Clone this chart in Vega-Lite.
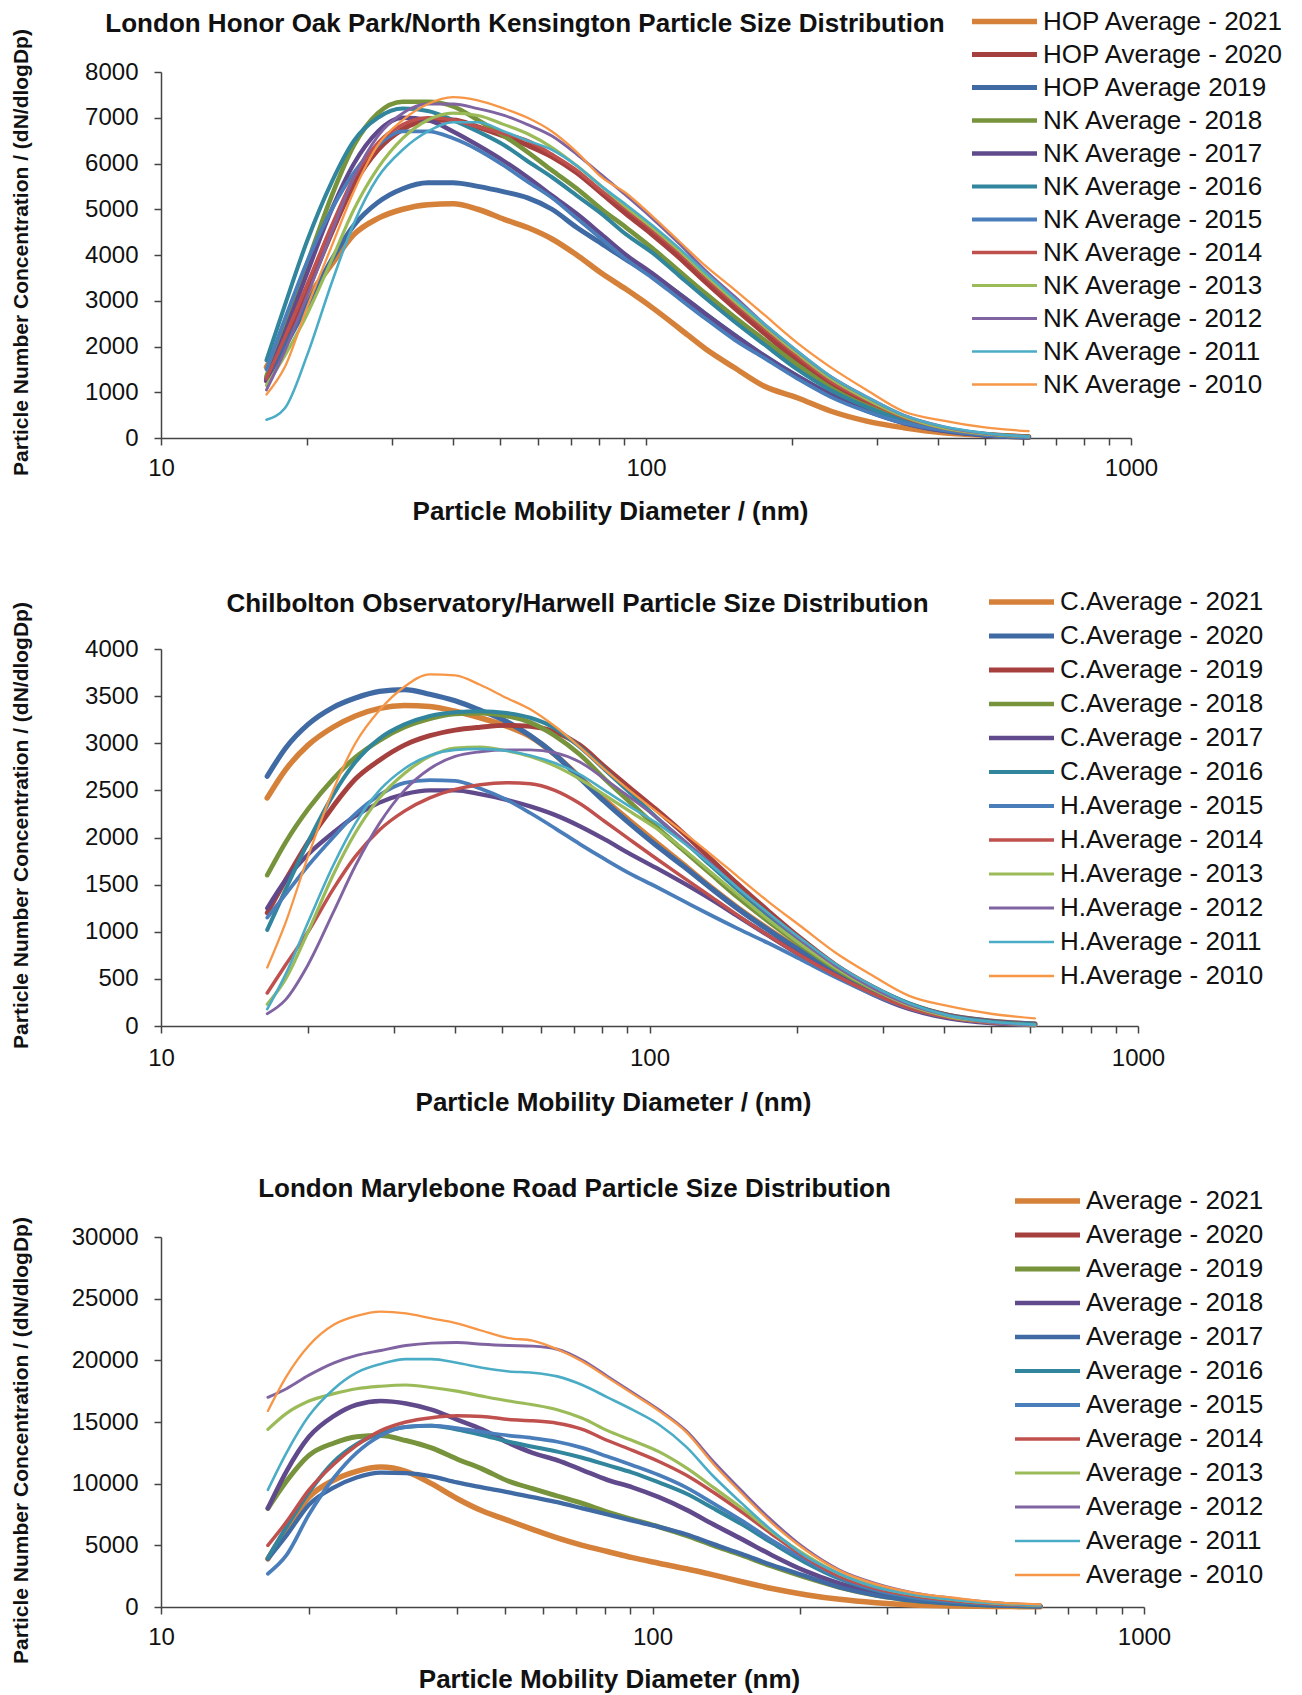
{
"$schema": "https://vega.github.io/schema/vega-lite/v6.json",
"background": "white",
"padding": {"left": 9, "top": 5, "right": 5, "bottom": 5},
"config": {
  "view": {"stroke": null},
  "font": "Liberation Sans",
  "axis": {"domainColor": "#444", "domainWidth": 1.5, "tickColor": "#444", "tickWidth": 1.5, "tickSize": 7, "grid": false, "labelColor": "#111", "titleColor": "#111", "labelFont": "Liberation Sans", "titleFont": "Liberation Sans", "labelFontSize": 24, "titleFontWeight": "bold"},
  "legend": {"labelFont": "Liberation Sans", "labelFontSize": 26, "labelColor": "#111", "labelLimit": 400, "symbolType": "stroke", "symbolSize": 4225, "padding": 0, "rowPadding": 0, "labelOffset": 3},
  "line": {"strokeJoin": "round", "strokeCap": "round", "interpolate": "monotone"}
},
"datasets": {
"p1": [
{"d":16.5,"s":"HOP Average - 2021","v":1550},{"d":18,"s":"HOP Average - 2021","v":2250},{"d":20,"s":"HOP Average - 2021","v":3050},{"d":22.5,"s":"HOP Average - 2021","v":3800},{"d":25,"s":"HOP Average - 2021","v":4450},{"d":28,"s":"HOP Average - 2021","v":4800},{"d":31.5,"s":"HOP Average - 2021","v":5000},{"d":35.5,"s":"HOP Average - 2021","v":5100},{"d":40,"s":"HOP Average - 2021","v":5120},{"d":45,"s":"HOP Average - 2021","v":5000},{"d":51,"s":"HOP Average - 2021","v":4780},{"d":57,"s":"HOP Average - 2021","v":4600},{"d":64,"s":"HOP Average - 2021","v":4350},{"d":72,"s":"HOP Average - 2021","v":4000},{"d":81,"s":"HOP Average - 2021","v":3600},{"d":91,"s":"HOP Average - 2021","v":3250},{"d":103,"s":"HOP Average - 2021","v":2850},{"d":117,"s":"HOP Average - 2021","v":2400},{"d":133,"s":"HOP Average - 2021","v":1940},{"d":152,"s":"HOP Average - 2021","v":1540},{"d":175,"s":"HOP Average - 2021","v":1135},{"d":205,"s":"HOP Average - 2021","v":880},{"d":240,"s":"HOP Average - 2021","v":590},{"d":285,"s":"HOP Average - 2021","v":370},{"d":340,"s":"HOP Average - 2021","v":225},{"d":410,"s":"HOP Average - 2021","v":115},{"d":500,"s":"HOP Average - 2021","v":60},{"d":615,"s":"HOP Average - 2021","v":20},
{"d":16.5,"s":"HOP Average - 2020","v":1250},{"d":18,"s":"HOP Average - 2020","v":2100},{"d":20,"s":"HOP Average - 2020","v":3200},{"d":22.5,"s":"HOP Average - 2020","v":4500},{"d":25,"s":"HOP Average - 2020","v":5550},{"d":28,"s":"HOP Average - 2020","v":6300},{"d":31.5,"s":"HOP Average - 2020","v":6750},{"d":35.5,"s":"HOP Average - 2020","v":6950},{"d":40,"s":"HOP Average - 2020","v":6950},{"d":45,"s":"HOP Average - 2020","v":6800},{"d":51,"s":"HOP Average - 2020","v":6600},{"d":57,"s":"HOP Average - 2020","v":6400},{"d":64,"s":"HOP Average - 2020","v":6150},{"d":72,"s":"HOP Average - 2020","v":5800},{"d":81,"s":"HOP Average - 2020","v":5350},{"d":91,"s":"HOP Average - 2020","v":4900},{"d":103,"s":"HOP Average - 2020","v":4450},{"d":117,"s":"HOP Average - 2020","v":3950},{"d":133,"s":"HOP Average - 2020","v":3400},{"d":152,"s":"HOP Average - 2020","v":2850},{"d":175,"s":"HOP Average - 2020","v":2300},{"d":205,"s":"HOP Average - 2020","v":1700},{"d":240,"s":"HOP Average - 2020","v":1200},{"d":285,"s":"HOP Average - 2020","v":780},{"d":340,"s":"HOP Average - 2020","v":430},{"d":410,"s":"HOP Average - 2020","v":200},{"d":500,"s":"HOP Average - 2020","v":80},{"d":615,"s":"HOP Average - 2020","v":25},
{"d":16.5,"s":"HOP Average 2019","v":1300},{"d":18,"s":"HOP Average 2019","v":2000},{"d":20,"s":"HOP Average 2019","v":2900},{"d":22.5,"s":"HOP Average 2019","v":3900},{"d":25,"s":"HOP Average 2019","v":4650},{"d":28,"s":"HOP Average 2019","v":5150},{"d":31.5,"s":"HOP Average 2019","v":5450},{"d":35.5,"s":"HOP Average 2019","v":5580},{"d":40,"s":"HOP Average 2019","v":5580},{"d":45,"s":"HOP Average 2019","v":5500},{"d":51,"s":"HOP Average 2019","v":5380},{"d":57,"s":"HOP Average 2019","v":5250},{"d":64,"s":"HOP Average 2019","v":5000},{"d":72,"s":"HOP Average 2019","v":4600},{"d":81,"s":"HOP Average 2019","v":4250},{"d":91,"s":"HOP Average 2019","v":3900},{"d":103,"s":"HOP Average 2019","v":3550},{"d":117,"s":"HOP Average 2019","v":3150},{"d":133,"s":"HOP Average 2019","v":2700},{"d":152,"s":"HOP Average 2019","v":2250},{"d":175,"s":"HOP Average 2019","v":1800},{"d":205,"s":"HOP Average 2019","v":1350},{"d":240,"s":"HOP Average 2019","v":950},{"d":285,"s":"HOP Average 2019","v":600},{"d":340,"s":"HOP Average 2019","v":330},{"d":410,"s":"HOP Average 2019","v":160},{"d":500,"s":"HOP Average 2019","v":60},{"d":615,"s":"HOP Average 2019","v":15},
{"d":16.5,"s":"NK Average - 2018","v":1350},{"d":18,"s":"NK Average - 2018","v":2450},{"d":20,"s":"NK Average - 2018","v":3800},{"d":22.5,"s":"NK Average - 2018","v":5300},{"d":25,"s":"NK Average - 2018","v":6400},{"d":28,"s":"NK Average - 2018","v":7100},{"d":31.5,"s":"NK Average - 2018","v":7350},{"d":35.5,"s":"NK Average - 2018","v":7350},{"d":40,"s":"NK Average - 2018","v":7250},{"d":45,"s":"NK Average - 2018","v":6950},{"d":51,"s":"NK Average - 2018","v":6600},{"d":57,"s":"NK Average - 2018","v":6250},{"d":64,"s":"NK Average - 2018","v":5850},{"d":72,"s":"NK Average - 2018","v":5450},{"d":81,"s":"NK Average - 2018","v":5000},{"d":91,"s":"NK Average - 2018","v":4600},{"d":103,"s":"NK Average - 2018","v":4150},{"d":117,"s":"NK Average - 2018","v":3650},{"d":133,"s":"NK Average - 2018","v":3150},{"d":152,"s":"NK Average - 2018","v":2650},{"d":175,"s":"NK Average - 2018","v":2150},{"d":205,"s":"NK Average - 2018","v":1600},{"d":240,"s":"NK Average - 2018","v":1100},{"d":285,"s":"NK Average - 2018","v":700},{"d":340,"s":"NK Average - 2018","v":400},{"d":410,"s":"NK Average - 2018","v":200},{"d":500,"s":"NK Average - 2018","v":80},{"d":615,"s":"NK Average - 2018","v":25},
{"d":16.5,"s":"NK Average - 2017","v":1250},{"d":18,"s":"NK Average - 2017","v":2300},{"d":20,"s":"NK Average - 2017","v":3600},{"d":22.5,"s":"NK Average - 2017","v":5000},{"d":25,"s":"NK Average - 2017","v":6000},{"d":28,"s":"NK Average - 2017","v":6700},{"d":31.5,"s":"NK Average - 2017","v":7000},{"d":35.5,"s":"NK Average - 2017","v":6950},{"d":40,"s":"NK Average - 2017","v":6700},{"d":45,"s":"NK Average - 2017","v":6400},{"d":51,"s":"NK Average - 2017","v":6050},{"d":57,"s":"NK Average - 2017","v":5700},{"d":64,"s":"NK Average - 2017","v":5300},{"d":72,"s":"NK Average - 2017","v":4900},{"d":81,"s":"NK Average - 2017","v":4450},{"d":91,"s":"NK Average - 2017","v":4000},{"d":103,"s":"NK Average - 2017","v":3600},{"d":117,"s":"NK Average - 2017","v":3150},{"d":133,"s":"NK Average - 2017","v":2700},{"d":152,"s":"NK Average - 2017","v":2250},{"d":175,"s":"NK Average - 2017","v":1800},{"d":205,"s":"NK Average - 2017","v":1350},{"d":240,"s":"NK Average - 2017","v":950},{"d":285,"s":"NK Average - 2017","v":600},{"d":340,"s":"NK Average - 2017","v":330},{"d":410,"s":"NK Average - 2017","v":160},{"d":500,"s":"NK Average - 2017","v":60},{"d":615,"s":"NK Average - 2017","v":20},
{"d":16.5,"s":"NK Average - 2016","v":1700},{"d":18,"s":"NK Average - 2016","v":2900},{"d":20,"s":"NK Average - 2016","v":4300},{"d":22.5,"s":"NK Average - 2016","v":5600},{"d":25,"s":"NK Average - 2016","v":6500},{"d":28,"s":"NK Average - 2016","v":7000},{"d":31.5,"s":"NK Average - 2016","v":7200},{"d":35.5,"s":"NK Average - 2016","v":7150},{"d":40,"s":"NK Average - 2016","v":6950},{"d":45,"s":"NK Average - 2016","v":6700},{"d":51,"s":"NK Average - 2016","v":6400},{"d":57,"s":"NK Average - 2016","v":6050},{"d":64,"s":"NK Average - 2016","v":5700},{"d":72,"s":"NK Average - 2016","v":5300},{"d":81,"s":"NK Average - 2016","v":4900},{"d":91,"s":"NK Average - 2016","v":4450},{"d":103,"s":"NK Average - 2016","v":4050},{"d":117,"s":"NK Average - 2016","v":3550},{"d":133,"s":"NK Average - 2016","v":3050},{"d":152,"s":"NK Average - 2016","v":2550},{"d":175,"s":"NK Average - 2016","v":2050},{"d":205,"s":"NK Average - 2016","v":1500},{"d":240,"s":"NK Average - 2016","v":1050},{"d":285,"s":"NK Average - 2016","v":680},{"d":340,"s":"NK Average - 2016","v":380},{"d":410,"s":"NK Average - 2016","v":180},{"d":500,"s":"NK Average - 2016","v":70},{"d":615,"s":"NK Average - 2016","v":20},
{"d":16.5,"s":"NK Average - 2015","v":1500},{"d":18,"s":"NK Average - 2015","v":2600},{"d":20,"s":"NK Average - 2015","v":3850},{"d":22.5,"s":"NK Average - 2015","v":5000},{"d":25,"s":"NK Average - 2015","v":5800},{"d":28,"s":"NK Average - 2015","v":6400},{"d":31.5,"s":"NK Average - 2015","v":6700},{"d":35.5,"s":"NK Average - 2015","v":6700},{"d":40,"s":"NK Average - 2015","v":6550},{"d":45,"s":"NK Average - 2015","v":6300},{"d":51,"s":"NK Average - 2015","v":5950},{"d":57,"s":"NK Average - 2015","v":5600},{"d":64,"s":"NK Average - 2015","v":5250},{"d":72,"s":"NK Average - 2015","v":4800},{"d":81,"s":"NK Average - 2015","v":4350},{"d":91,"s":"NK Average - 2015","v":3900},{"d":103,"s":"NK Average - 2015","v":3500},{"d":117,"s":"NK Average - 2015","v":3050},{"d":133,"s":"NK Average - 2015","v":2600},{"d":152,"s":"NK Average - 2015","v":2150},{"d":175,"s":"NK Average - 2015","v":1750},{"d":205,"s":"NK Average - 2015","v":1300},{"d":240,"s":"NK Average - 2015","v":900},{"d":285,"s":"NK Average - 2015","v":580},{"d":340,"s":"NK Average - 2015","v":330},{"d":410,"s":"NK Average - 2015","v":170},{"d":500,"s":"NK Average - 2015","v":70},{"d":615,"s":"NK Average - 2015","v":20},
{"d":16.5,"s":"NK Average - 2014","v":1300},{"d":18,"s":"NK Average - 2014","v":2200},{"d":20,"s":"NK Average - 2014","v":3350},{"d":22.5,"s":"NK Average - 2014","v":4650},{"d":25,"s":"NK Average - 2014","v":5700},{"d":28,"s":"NK Average - 2014","v":6450},{"d":31.5,"s":"NK Average - 2014","v":6850},{"d":35.5,"s":"NK Average - 2014","v":7000},{"d":40,"s":"NK Average - 2014","v":6950},{"d":45,"s":"NK Average - 2014","v":6800},{"d":51,"s":"NK Average - 2014","v":6650},{"d":57,"s":"NK Average - 2014","v":6500},{"d":64,"s":"NK Average - 2014","v":6200},{"d":72,"s":"NK Average - 2014","v":5850},{"d":81,"s":"NK Average - 2014","v":5400},{"d":91,"s":"NK Average - 2014","v":5000},{"d":103,"s":"NK Average - 2014","v":4550},{"d":117,"s":"NK Average - 2014","v":4050},{"d":133,"s":"NK Average - 2014","v":3500},{"d":152,"s":"NK Average - 2014","v":2950},{"d":175,"s":"NK Average - 2014","v":2400},{"d":205,"s":"NK Average - 2014","v":1800},{"d":240,"s":"NK Average - 2014","v":1250},{"d":285,"s":"NK Average - 2014","v":820},{"d":340,"s":"NK Average - 2014","v":450},{"d":410,"s":"NK Average - 2014","v":220},{"d":500,"s":"NK Average - 2014","v":90},{"d":615,"s":"NK Average - 2014","v":30},
{"d":16.5,"s":"NK Average - 2013","v":1150},{"d":18,"s":"NK Average - 2013","v":1800},{"d":20,"s":"NK Average - 2013","v":2700},{"d":22.5,"s":"NK Average - 2013","v":3900},{"d":25,"s":"NK Average - 2013","v":5000},{"d":28,"s":"NK Average - 2013","v":5900},{"d":31.5,"s":"NK Average - 2013","v":6550},{"d":35.5,"s":"NK Average - 2013","v":6950},{"d":40,"s":"NK Average - 2013","v":7100},{"d":45,"s":"NK Average - 2013","v":7050},{"d":51,"s":"NK Average - 2013","v":6850},{"d":57,"s":"NK Average - 2013","v":6650},{"d":64,"s":"NK Average - 2013","v":6350},{"d":72,"s":"NK Average - 2013","v":5950},{"d":81,"s":"NK Average - 2013","v":5500},{"d":91,"s":"NK Average - 2013","v":5050},{"d":103,"s":"NK Average - 2013","v":4600},{"d":117,"s":"NK Average - 2013","v":4100},{"d":133,"s":"NK Average - 2013","v":3550},{"d":152,"s":"NK Average - 2013","v":3000},{"d":175,"s":"NK Average - 2013","v":2450},{"d":205,"s":"NK Average - 2013","v":1850},{"d":240,"s":"NK Average - 2013","v":1300},{"d":285,"s":"NK Average - 2013","v":850},{"d":340,"s":"NK Average - 2013","v":470},{"d":410,"s":"NK Average - 2013","v":220},{"d":500,"s":"NK Average - 2013","v":90},{"d":615,"s":"NK Average - 2013","v":30},
{"d":16.5,"s":"NK Average - 2012","v":1050},{"d":18,"s":"NK Average - 2012","v":1900},{"d":20,"s":"NK Average - 2012","v":3100},{"d":22.5,"s":"NK Average - 2012","v":4500},{"d":25,"s":"NK Average - 2012","v":5700},{"d":28,"s":"NK Average - 2012","v":6600},{"d":31.5,"s":"NK Average - 2012","v":7100},{"d":35.5,"s":"NK Average - 2012","v":7300},{"d":40,"s":"NK Average - 2012","v":7300},{"d":45,"s":"NK Average - 2012","v":7200},{"d":51,"s":"NK Average - 2012","v":7050},{"d":57,"s":"NK Average - 2012","v":6850},{"d":64,"s":"NK Average - 2012","v":6600},{"d":72,"s":"NK Average - 2012","v":6200},{"d":81,"s":"NK Average - 2012","v":5750},{"d":91,"s":"NK Average - 2012","v":5300},{"d":103,"s":"NK Average - 2012","v":4800},{"d":117,"s":"NK Average - 2012","v":4250},{"d":133,"s":"NK Average - 2012","v":3650},{"d":152,"s":"NK Average - 2012","v":3100},{"d":175,"s":"NK Average - 2012","v":2500},{"d":205,"s":"NK Average - 2012","v":1900},{"d":240,"s":"NK Average - 2012","v":1350},{"d":285,"s":"NK Average - 2012","v":900},{"d":340,"s":"NK Average - 2012","v":500},{"d":410,"s":"NK Average - 2012","v":250},{"d":500,"s":"NK Average - 2012","v":100},{"d":615,"s":"NK Average - 2012","v":30},
{"d":16.5,"s":"NK Average - 2011","v":400},{"d":18,"s":"NK Average - 2011","v":650},{"d":20,"s":"NK Average - 2011","v":1800},{"d":22.5,"s":"NK Average - 2011","v":3400},{"d":25,"s":"NK Average - 2011","v":4700},{"d":28,"s":"NK Average - 2011","v":5700},{"d":31.5,"s":"NK Average - 2011","v":6300},{"d":35.5,"s":"NK Average - 2011","v":6700},{"d":40,"s":"NK Average - 2011","v":6900},{"d":45,"s":"NK Average - 2011","v":6900},{"d":51,"s":"NK Average - 2011","v":6700},{"d":57,"s":"NK Average - 2011","v":6500},{"d":64,"s":"NK Average - 2011","v":6300},{"d":72,"s":"NK Average - 2011","v":5950},{"d":81,"s":"NK Average - 2011","v":5500},{"d":91,"s":"NK Average - 2011","v":5100},{"d":103,"s":"NK Average - 2011","v":4650},{"d":117,"s":"NK Average - 2011","v":4150},{"d":133,"s":"NK Average - 2011","v":3600},{"d":152,"s":"NK Average - 2011","v":3050},{"d":175,"s":"NK Average - 2011","v":2500},{"d":205,"s":"NK Average - 2011","v":1900},{"d":240,"s":"NK Average - 2011","v":1350},{"d":285,"s":"NK Average - 2011","v":900},{"d":340,"s":"NK Average - 2011","v":500},{"d":410,"s":"NK Average - 2011","v":250},{"d":500,"s":"NK Average - 2011","v":110},{"d":615,"s":"NK Average - 2011","v":30},
{"d":16.5,"s":"NK Average - 2010","v":950},{"d":18,"s":"NK Average - 2010","v":1550},{"d":20,"s":"NK Average - 2010","v":2850},{"d":22.5,"s":"NK Average - 2010","v":4200},{"d":25,"s":"NK Average - 2010","v":5400},{"d":28,"s":"NK Average - 2010","v":6400},{"d":31.5,"s":"NK Average - 2010","v":6950},{"d":35.5,"s":"NK Average - 2010","v":7300},{"d":40,"s":"NK Average - 2010","v":7450},{"d":45,"s":"NK Average - 2010","v":7380},{"d":51,"s":"NK Average - 2010","v":7200},{"d":57,"s":"NK Average - 2010","v":7000},{"d":64,"s":"NK Average - 2010","v":6700},{"d":72,"s":"NK Average - 2010","v":6250},{"d":81,"s":"NK Average - 2010","v":5700},{"d":91,"s":"NK Average - 2010","v":5350},{"d":103,"s":"NK Average - 2010","v":4850},{"d":117,"s":"NK Average - 2010","v":4300},{"d":133,"s":"NK Average - 2010","v":3750},{"d":152,"s":"NK Average - 2010","v":3250},{"d":175,"s":"NK Average - 2010","v":2700},{"d":205,"s":"NK Average - 2010","v":2080},{"d":240,"s":"NK Average - 2010","v":1550},{"d":285,"s":"NK Average - 2010","v":1050},{"d":340,"s":"NK Average - 2010","v":580},{"d":410,"s":"NK Average - 2010","v":380},{"d":500,"s":"NK Average - 2010","v":230},{"d":615,"s":"NK Average - 2010","v":150}
],
"p2": [
{"d":16.5,"s":"C.Average - 2021","v":2420},{"d":18,"s":"C.Average - 2021","v":2720},{"d":20,"s":"C.Average - 2021","v":2980},{"d":22.5,"s":"C.Average - 2021","v":3170},{"d":25,"s":"C.Average - 2021","v":3290},{"d":28,"s":"C.Average - 2021","v":3370},{"d":31.5,"s":"C.Average - 2021","v":3400},{"d":35.5,"s":"C.Average - 2021","v":3390},{"d":40,"s":"C.Average - 2021","v":3340},{"d":45,"s":"C.Average - 2021","v":3270},{"d":51,"s":"C.Average - 2021","v":3180},{"d":57,"s":"C.Average - 2021","v":3070},{"d":64,"s":"C.Average - 2021","v":2880},{"d":72,"s":"C.Average - 2021","v":2640},{"d":81,"s":"C.Average - 2021","v":2400},{"d":91,"s":"C.Average - 2021","v":2180},{"d":103,"s":"C.Average - 2021","v":1950},{"d":117,"s":"C.Average - 2021","v":1720},{"d":133,"s":"C.Average - 2021","v":1480},{"d":152,"s":"C.Average - 2021","v":1250},{"d":175,"s":"C.Average - 2021","v":1030},{"d":205,"s":"C.Average - 2021","v":800},{"d":240,"s":"C.Average - 2021","v":600},{"d":285,"s":"C.Average - 2021","v":400},{"d":340,"s":"C.Average - 2021","v":230},{"d":410,"s":"C.Average - 2021","v":110},{"d":500,"s":"C.Average - 2021","v":50},{"d":615,"s":"C.Average - 2021","v":20},
{"d":16.5,"s":"C.Average - 2020","v":2650},{"d":18,"s":"C.Average - 2020","v":2950},{"d":20,"s":"C.Average - 2020","v":3200},{"d":22.5,"s":"C.Average - 2020","v":3380},{"d":25,"s":"C.Average - 2020","v":3480},{"d":28,"s":"C.Average - 2020","v":3550},{"d":31.5,"s":"C.Average - 2020","v":3570},{"d":35.5,"s":"C.Average - 2020","v":3520},{"d":40,"s":"C.Average - 2020","v":3450},{"d":45,"s":"C.Average - 2020","v":3350},{"d":51,"s":"C.Average - 2020","v":3230},{"d":57,"s":"C.Average - 2020","v":3080},{"d":64,"s":"C.Average - 2020","v":2880},{"d":72,"s":"C.Average - 2020","v":2630},{"d":81,"s":"C.Average - 2020","v":2380},{"d":91,"s":"C.Average - 2020","v":2150},{"d":103,"s":"C.Average - 2020","v":1920},{"d":117,"s":"C.Average - 2020","v":1700},{"d":133,"s":"C.Average - 2020","v":1470},{"d":152,"s":"C.Average - 2020","v":1240},{"d":175,"s":"C.Average - 2020","v":1020},{"d":205,"s":"C.Average - 2020","v":790},{"d":240,"s":"C.Average - 2020","v":590},{"d":285,"s":"C.Average - 2020","v":390},{"d":340,"s":"C.Average - 2020","v":220},{"d":410,"s":"C.Average - 2020","v":110},{"d":500,"s":"C.Average - 2020","v":50},{"d":615,"s":"C.Average - 2020","v":20},
{"d":16.5,"s":"C.Average - 2019","v":1200},{"d":18,"s":"C.Average - 2019","v":1550},{"d":20,"s":"C.Average - 2019","v":1950},{"d":22.5,"s":"C.Average - 2019","v":2330},{"d":25,"s":"C.Average - 2019","v":2620},{"d":28,"s":"C.Average - 2019","v":2820},{"d":31.5,"s":"C.Average - 2019","v":2980},{"d":35.5,"s":"C.Average - 2019","v":3080},{"d":40,"s":"C.Average - 2019","v":3140},{"d":45,"s":"C.Average - 2019","v":3170},{"d":51,"s":"C.Average - 2019","v":3190},{"d":57,"s":"C.Average - 2019","v":3180},{"d":64,"s":"C.Average - 2019","v":3120},{"d":72,"s":"C.Average - 2019","v":2980},{"d":81,"s":"C.Average - 2019","v":2750},{"d":91,"s":"C.Average - 2019","v":2530},{"d":103,"s":"C.Average - 2019","v":2300},{"d":117,"s":"C.Average - 2019","v":2050},{"d":133,"s":"C.Average - 2019","v":1780},{"d":152,"s":"C.Average - 2019","v":1500},{"d":175,"s":"C.Average - 2019","v":1220},{"d":205,"s":"C.Average - 2019","v":920},{"d":240,"s":"C.Average - 2019","v":650},{"d":285,"s":"C.Average - 2019","v":420},{"d":340,"s":"C.Average - 2019","v":230},{"d":410,"s":"C.Average - 2019","v":110},{"d":500,"s":"C.Average - 2019","v":45},{"d":615,"s":"C.Average - 2019","v":15},
{"d":16.5,"s":"C.Average - 2018","v":1600},{"d":18,"s":"C.Average - 2018","v":1950},{"d":20,"s":"C.Average - 2018","v":2300},{"d":22.5,"s":"C.Average - 2018","v":2620},{"d":25,"s":"C.Average - 2018","v":2850},{"d":28,"s":"C.Average - 2018","v":3030},{"d":31.5,"s":"C.Average - 2018","v":3170},{"d":35.5,"s":"C.Average - 2018","v":3260},{"d":40,"s":"C.Average - 2018","v":3310},{"d":45,"s":"C.Average - 2018","v":3320},{"d":51,"s":"C.Average - 2018","v":3290},{"d":57,"s":"C.Average - 2018","v":3220},{"d":64,"s":"C.Average - 2018","v":3080},{"d":72,"s":"C.Average - 2018","v":2880},{"d":81,"s":"C.Average - 2018","v":2620},{"d":91,"s":"C.Average - 2018","v":2380},{"d":103,"s":"C.Average - 2018","v":2120},{"d":117,"s":"C.Average - 2018","v":1870},{"d":133,"s":"C.Average - 2018","v":1620},{"d":152,"s":"C.Average - 2018","v":1360},{"d":175,"s":"C.Average - 2018","v":1110},{"d":205,"s":"C.Average - 2018","v":850},{"d":240,"s":"C.Average - 2018","v":610},{"d":285,"s":"C.Average - 2018","v":400},{"d":340,"s":"C.Average - 2018","v":220},{"d":410,"s":"C.Average - 2018","v":100},{"d":500,"s":"C.Average - 2018","v":40},{"d":615,"s":"C.Average - 2018","v":10},
{"d":16.5,"s":"C.Average - 2017","v":1250},{"d":18,"s":"C.Average - 2017","v":1550},{"d":20,"s":"C.Average - 2017","v":1820},{"d":22.5,"s":"C.Average - 2017","v":2050},{"d":25,"s":"C.Average - 2017","v":2230},{"d":28,"s":"C.Average - 2017","v":2370},{"d":31.5,"s":"C.Average - 2017","v":2460},{"d":35.5,"s":"C.Average - 2017","v":2500},{"d":40,"s":"C.Average - 2017","v":2500},{"d":45,"s":"C.Average - 2017","v":2460},{"d":51,"s":"C.Average - 2017","v":2400},{"d":57,"s":"C.Average - 2017","v":2330},{"d":64,"s":"C.Average - 2017","v":2240},{"d":72,"s":"C.Average - 2017","v":2120},{"d":81,"s":"C.Average - 2017","v":1980},{"d":91,"s":"C.Average - 2017","v":1830},{"d":103,"s":"C.Average - 2017","v":1680},{"d":117,"s":"C.Average - 2017","v":1520},{"d":133,"s":"C.Average - 2017","v":1350},{"d":152,"s":"C.Average - 2017","v":1160},{"d":175,"s":"C.Average - 2017","v":960},{"d":205,"s":"C.Average - 2017","v":740},{"d":240,"s":"C.Average - 2017","v":540},{"d":285,"s":"C.Average - 2017","v":340},{"d":340,"s":"C.Average - 2017","v":180},{"d":410,"s":"C.Average - 2017","v":80},{"d":500,"s":"C.Average - 2017","v":30},{"d":615,"s":"C.Average - 2017","v":10},
{"d":16.5,"s":"C.Average - 2016","v":1020},{"d":18,"s":"C.Average - 2016","v":1450},{"d":20,"s":"C.Average - 2016","v":1950},{"d":22.5,"s":"C.Average - 2016","v":2450},{"d":25,"s":"C.Average - 2016","v":2800},{"d":28,"s":"C.Average - 2016","v":3050},{"d":31.5,"s":"C.Average - 2016","v":3200},{"d":35.5,"s":"C.Average - 2016","v":3290},{"d":40,"s":"C.Average - 2016","v":3330},{"d":45,"s":"C.Average - 2016","v":3340},{"d":51,"s":"C.Average - 2016","v":3320},{"d":57,"s":"C.Average - 2016","v":3270},{"d":64,"s":"C.Average - 2016","v":3160},{"d":72,"s":"C.Average - 2016","v":2960},{"d":81,"s":"C.Average - 2016","v":2720},{"d":91,"s":"C.Average - 2016","v":2480},{"d":103,"s":"C.Average - 2016","v":2220},{"d":117,"s":"C.Average - 2016","v":1970},{"d":133,"s":"C.Average - 2016","v":1710},{"d":152,"s":"C.Average - 2016","v":1440},{"d":175,"s":"C.Average - 2016","v":1170},{"d":205,"s":"C.Average - 2016","v":890},{"d":240,"s":"C.Average - 2016","v":640},{"d":285,"s":"C.Average - 2016","v":420},{"d":340,"s":"C.Average - 2016","v":240},{"d":410,"s":"C.Average - 2016","v":110},{"d":500,"s":"C.Average - 2016","v":45},{"d":615,"s":"C.Average - 2016","v":15},
{"d":16.5,"s":"H.Average - 2015","v":1150},{"d":18,"s":"H.Average - 2015","v":1400},{"d":20,"s":"H.Average - 2015","v":1700},{"d":22.5,"s":"H.Average - 2015","v":2000},{"d":25,"s":"H.Average - 2015","v":2250},{"d":28,"s":"H.Average - 2015","v":2450},{"d":31.5,"s":"H.Average - 2015","v":2580},{"d":35.5,"s":"H.Average - 2015","v":2610},{"d":40,"s":"H.Average - 2015","v":2600},{"d":45,"s":"H.Average - 2015","v":2520},{"d":51,"s":"H.Average - 2015","v":2400},{"d":57,"s":"H.Average - 2015","v":2260},{"d":64,"s":"H.Average - 2015","v":2100},{"d":72,"s":"H.Average - 2015","v":1930},{"d":81,"s":"H.Average - 2015","v":1770},{"d":91,"s":"H.Average - 2015","v":1620},{"d":103,"s":"H.Average - 2015","v":1480},{"d":117,"s":"H.Average - 2015","v":1330},{"d":133,"s":"H.Average - 2015","v":1180},{"d":152,"s":"H.Average - 2015","v":1030},{"d":175,"s":"H.Average - 2015","v":880},{"d":205,"s":"H.Average - 2015","v":700},{"d":240,"s":"H.Average - 2015","v":520},{"d":285,"s":"H.Average - 2015","v":340},{"d":340,"s":"H.Average - 2015","v":190},{"d":410,"s":"H.Average - 2015","v":90},{"d":500,"s":"H.Average - 2015","v":35},{"d":615,"s":"H.Average - 2015","v":10},
{"d":16.5,"s":"H.Average - 2014","v":350},{"d":18,"s":"H.Average - 2014","v":650},{"d":20,"s":"H.Average - 2014","v":1000},{"d":22.5,"s":"H.Average - 2014","v":1450},{"d":25,"s":"H.Average - 2014","v":1800},{"d":28,"s":"H.Average - 2014","v":2080},{"d":31.5,"s":"H.Average - 2014","v":2280},{"d":35.5,"s":"H.Average - 2014","v":2420},{"d":40,"s":"H.Average - 2014","v":2510},{"d":45,"s":"H.Average - 2014","v":2560},{"d":51,"s":"H.Average - 2014","v":2580},{"d":57,"s":"H.Average - 2014","v":2570},{"d":64,"s":"H.Average - 2014","v":2500},{"d":72,"s":"H.Average - 2014","v":2360},{"d":81,"s":"H.Average - 2014","v":2170},{"d":91,"s":"H.Average - 2014","v":1980},{"d":103,"s":"H.Average - 2014","v":1780},{"d":117,"s":"H.Average - 2014","v":1580},{"d":133,"s":"H.Average - 2014","v":1380},{"d":152,"s":"H.Average - 2014","v":1170},{"d":175,"s":"H.Average - 2014","v":960},{"d":205,"s":"H.Average - 2014","v":740},{"d":240,"s":"H.Average - 2014","v":540},{"d":285,"s":"H.Average - 2014","v":350},{"d":340,"s":"H.Average - 2014","v":190},{"d":410,"s":"H.Average - 2014","v":90},{"d":500,"s":"H.Average - 2014","v":35},{"d":615,"s":"H.Average - 2014","v":10},
{"d":16.5,"s":"H.Average - 2013","v":230},{"d":18,"s":"H.Average - 2013","v":500},{"d":20,"s":"H.Average - 2013","v":1000},{"d":22.5,"s":"H.Average - 2013","v":1600},{"d":25,"s":"H.Average - 2013","v":2050},{"d":28,"s":"H.Average - 2013","v":2420},{"d":31.5,"s":"H.Average - 2013","v":2680},{"d":35.5,"s":"H.Average - 2013","v":2860},{"d":40,"s":"H.Average - 2013","v":2950},{"d":45,"s":"H.Average - 2013","v":2960},{"d":51,"s":"H.Average - 2013","v":2920},{"d":57,"s":"H.Average - 2013","v":2860},{"d":64,"s":"H.Average - 2013","v":2760},{"d":72,"s":"H.Average - 2013","v":2620},{"d":81,"s":"H.Average - 2013","v":2450},{"d":91,"s":"H.Average - 2013","v":2280},{"d":103,"s":"H.Average - 2013","v":2100},{"d":117,"s":"H.Average - 2013","v":1880},{"d":133,"s":"H.Average - 2013","v":1640},{"d":152,"s":"H.Average - 2013","v":1390},{"d":175,"s":"H.Average - 2013","v":1130},{"d":205,"s":"H.Average - 2013","v":860},{"d":240,"s":"H.Average - 2013","v":620},{"d":285,"s":"H.Average - 2013","v":400},{"d":340,"s":"H.Average - 2013","v":220},{"d":410,"s":"H.Average - 2013","v":100},{"d":500,"s":"H.Average - 2013","v":40},{"d":615,"s":"H.Average - 2013","v":10},
{"d":16.5,"s":"H.Average - 2012","v":130},{"d":18,"s":"H.Average - 2012","v":280},{"d":20,"s":"H.Average - 2012","v":650},{"d":22.5,"s":"H.Average - 2012","v":1200},{"d":25,"s":"H.Average - 2012","v":1700},{"d":28,"s":"H.Average - 2012","v":2150},{"d":31.5,"s":"H.Average - 2012","v":2500},{"d":35.5,"s":"H.Average - 2012","v":2730},{"d":40,"s":"H.Average - 2012","v":2860},{"d":45,"s":"H.Average - 2012","v":2910},{"d":51,"s":"H.Average - 2012","v":2930},{"d":57,"s":"H.Average - 2012","v":2930},{"d":64,"s":"H.Average - 2012","v":2900},{"d":72,"s":"H.Average - 2012","v":2800},{"d":81,"s":"H.Average - 2012","v":2620},{"d":91,"s":"H.Average - 2012","v":2430},{"d":103,"s":"H.Average - 2012","v":2220},{"d":117,"s":"H.Average - 2012","v":1980},{"d":133,"s":"H.Average - 2012","v":1730},{"d":152,"s":"H.Average - 2012","v":1460},{"d":175,"s":"H.Average - 2012","v":1190},{"d":205,"s":"H.Average - 2012","v":900},{"d":240,"s":"H.Average - 2012","v":640},{"d":285,"s":"H.Average - 2012","v":410},{"d":340,"s":"H.Average - 2012","v":230},{"d":410,"s":"H.Average - 2012","v":110},{"d":500,"s":"H.Average - 2012","v":40},{"d":615,"s":"H.Average - 2012","v":10},
{"d":16.5,"s":"H.Average - 2011","v":180},{"d":18,"s":"H.Average - 2011","v":550},{"d":20,"s":"H.Average - 2011","v":1100},{"d":22.5,"s":"H.Average - 2011","v":1700},{"d":25,"s":"H.Average - 2011","v":2150},{"d":28,"s":"H.Average - 2011","v":2500},{"d":31.5,"s":"H.Average - 2011","v":2730},{"d":35.5,"s":"H.Average - 2011","v":2870},{"d":40,"s":"H.Average - 2011","v":2930},{"d":45,"s":"H.Average - 2011","v":2940},{"d":51,"s":"H.Average - 2011","v":2920},{"d":57,"s":"H.Average - 2011","v":2870},{"d":64,"s":"H.Average - 2011","v":2790},{"d":72,"s":"H.Average - 2011","v":2670},{"d":81,"s":"H.Average - 2011","v":2500},{"d":91,"s":"H.Average - 2011","v":2330},{"d":103,"s":"H.Average - 2011","v":2160},{"d":117,"s":"H.Average - 2011","v":1950},{"d":133,"s":"H.Average - 2011","v":1720},{"d":152,"s":"H.Average - 2011","v":1460},{"d":175,"s":"H.Average - 2011","v":1200},{"d":205,"s":"H.Average - 2011","v":920},{"d":240,"s":"H.Average - 2011","v":660},{"d":285,"s":"H.Average - 2011","v":430},{"d":340,"s":"H.Average - 2011","v":240},{"d":410,"s":"H.Average - 2011","v":110},{"d":500,"s":"H.Average - 2011","v":45},{"d":615,"s":"H.Average - 2011","v":15},
{"d":16.5,"s":"H.Average - 2010","v":620},{"d":18,"s":"H.Average - 2010","v":1100},{"d":20,"s":"H.Average - 2010","v":1800},{"d":22.5,"s":"H.Average - 2010","v":2500},{"d":25,"s":"H.Average - 2010","v":3000},{"d":28,"s":"H.Average - 2010","v":3350},{"d":31.5,"s":"H.Average - 2010","v":3600},{"d":35.5,"s":"H.Average - 2010","v":3730},{"d":40,"s":"H.Average - 2010","v":3720},{"d":45,"s":"H.Average - 2010","v":3620},{"d":51,"s":"H.Average - 2010","v":3480},{"d":57,"s":"H.Average - 2010","v":3360},{"d":64,"s":"H.Average - 2010","v":3180},{"d":72,"s":"H.Average - 2010","v":2960},{"d":81,"s":"H.Average - 2010","v":2720},{"d":91,"s":"H.Average - 2010","v":2500},{"d":103,"s":"H.Average - 2010","v":2280},{"d":117,"s":"H.Average - 2010","v":2060},{"d":133,"s":"H.Average - 2010","v":1830},{"d":152,"s":"H.Average - 2010","v":1580},{"d":175,"s":"H.Average - 2010","v":1320},{"d":205,"s":"H.Average - 2010","v":1050},{"d":240,"s":"H.Average - 2010","v":780},{"d":285,"s":"H.Average - 2010","v":540},{"d":340,"s":"H.Average - 2010","v":320},{"d":410,"s":"H.Average - 2010","v":210},{"d":500,"s":"H.Average - 2010","v":130},{"d":615,"s":"H.Average - 2010","v":80}
],
"p3": [
{"d":16.5,"s":"Average - 2021","v":3900},{"d":18,"s":"Average - 2021","v":6300},{"d":20,"s":"Average - 2021","v":8900},{"d":22.5,"s":"Average - 2021","v":10300},{"d":25,"s":"Average - 2021","v":11000},{"d":28,"s":"Average - 2021","v":11350},{"d":31.5,"s":"Average - 2021","v":11000},{"d":35.5,"s":"Average - 2021","v":10000},{"d":40,"s":"Average - 2021","v":8800},{"d":45,"s":"Average - 2021","v":7800},{"d":51,"s":"Average - 2021","v":7000},{"d":57,"s":"Average - 2021","v":6300},{"d":64,"s":"Average - 2021","v":5600},{"d":72,"s":"Average - 2021","v":5000},{"d":81,"s":"Average - 2021","v":4500},{"d":91,"s":"Average - 2021","v":4000},{"d":103,"s":"Average - 2021","v":3550},{"d":117,"s":"Average - 2021","v":3100},{"d":133,"s":"Average - 2021","v":2600},{"d":152,"s":"Average - 2021","v":2050},{"d":175,"s":"Average - 2021","v":1500},{"d":205,"s":"Average - 2021","v":1000},{"d":240,"s":"Average - 2021","v":620},{"d":285,"s":"Average - 2021","v":350},{"d":340,"s":"Average - 2021","v":170},{"d":410,"s":"Average - 2021","v":80},{"d":500,"s":"Average - 2021","v":40},{"d":615,"s":"Average - 2021","v":20},
{"d":16.5,"s":"Average - 2019","v":8000},{"d":18,"s":"Average - 2019","v":10200},{"d":20,"s":"Average - 2019","v":12300},{"d":22.5,"s":"Average - 2019","v":13300},{"d":25,"s":"Average - 2019","v":13800},{"d":28,"s":"Average - 2019","v":13900},{"d":31.5,"s":"Average - 2019","v":13500},{"d":35.5,"s":"Average - 2019","v":12900},{"d":40,"s":"Average - 2019","v":12000},{"d":45,"s":"Average - 2019","v":11200},{"d":51,"s":"Average - 2019","v":10200},{"d":57,"s":"Average - 2019","v":9600},{"d":64,"s":"Average - 2019","v":9000},{"d":72,"s":"Average - 2019","v":8400},{"d":81,"s":"Average - 2019","v":7700},{"d":91,"s":"Average - 2019","v":7100},{"d":103,"s":"Average - 2019","v":6500},{"d":117,"s":"Average - 2019","v":5800},{"d":133,"s":"Average - 2019","v":5000},{"d":152,"s":"Average - 2019","v":4200},{"d":175,"s":"Average - 2019","v":3300},{"d":205,"s":"Average - 2019","v":2400},{"d":240,"s":"Average - 2019","v":1600},{"d":285,"s":"Average - 2019","v":950},{"d":340,"s":"Average - 2019","v":520},{"d":410,"s":"Average - 2019","v":280},{"d":500,"s":"Average - 2019","v":130},{"d":615,"s":"Average - 2019","v":60},
{"d":16.5,"s":"Average - 2018","v":8000},{"d":18,"s":"Average - 2018","v":11000},{"d":20,"s":"Average - 2018","v":13800},{"d":22.5,"s":"Average - 2018","v":15500},{"d":25,"s":"Average - 2018","v":16400},{"d":28,"s":"Average - 2018","v":16700},{"d":31.5,"s":"Average - 2018","v":16500},{"d":35.5,"s":"Average - 2018","v":16000},{"d":40,"s":"Average - 2018","v":15200},{"d":45,"s":"Average - 2018","v":14400},{"d":51,"s":"Average - 2018","v":13300},{"d":57,"s":"Average - 2018","v":12500},{"d":64,"s":"Average - 2018","v":11900},{"d":72,"s":"Average - 2018","v":11100},{"d":81,"s":"Average - 2018","v":10300},{"d":91,"s":"Average - 2018","v":9700},{"d":103,"s":"Average - 2018","v":8900},{"d":117,"s":"Average - 2018","v":7900},{"d":133,"s":"Average - 2018","v":6700},{"d":152,"s":"Average - 2018","v":5500},{"d":175,"s":"Average - 2018","v":4200},{"d":205,"s":"Average - 2018","v":2900},{"d":240,"s":"Average - 2018","v":1900},{"d":285,"s":"Average - 2018","v":1100},{"d":340,"s":"Average - 2018","v":600},{"d":410,"s":"Average - 2018","v":320},{"d":500,"s":"Average - 2018","v":150},{"d":615,"s":"Average - 2018","v":70},
{"d":16.5,"s":"Average - 2017","v":3900},{"d":18,"s":"Average - 2017","v":5800},{"d":20,"s":"Average - 2017","v":8300},{"d":22.5,"s":"Average - 2017","v":9700},{"d":25,"s":"Average - 2017","v":10500},{"d":28,"s":"Average - 2017","v":10900},{"d":31.5,"s":"Average - 2017","v":10850},{"d":35.5,"s":"Average - 2017","v":10600},{"d":40,"s":"Average - 2017","v":10100},{"d":45,"s":"Average - 2017","v":9700},{"d":51,"s":"Average - 2017","v":9300},{"d":57,"s":"Average - 2017","v":8900},{"d":64,"s":"Average - 2017","v":8500},{"d":72,"s":"Average - 2017","v":8000},{"d":81,"s":"Average - 2017","v":7500},{"d":91,"s":"Average - 2017","v":7000},{"d":103,"s":"Average - 2017","v":6500},{"d":117,"s":"Average - 2017","v":5900},{"d":133,"s":"Average - 2017","v":5100},{"d":152,"s":"Average - 2017","v":4300},{"d":175,"s":"Average - 2017","v":3400},{"d":205,"s":"Average - 2017","v":2500},{"d":240,"s":"Average - 2017","v":1600},{"d":285,"s":"Average - 2017","v":950},{"d":340,"s":"Average - 2017","v":520},{"d":410,"s":"Average - 2017","v":280},{"d":500,"s":"Average - 2017","v":130},{"d":615,"s":"Average - 2017","v":60},
{"d":16.5,"s":"Average - 2016","v":4000},{"d":18,"s":"Average - 2016","v":6500},{"d":20,"s":"Average - 2016","v":9300},{"d":22.5,"s":"Average - 2016","v":11800},{"d":25,"s":"Average - 2016","v":13200},{"d":28,"s":"Average - 2016","v":14100},{"d":31.5,"s":"Average - 2016","v":14600},{"d":35.5,"s":"Average - 2016","v":14700},{"d":40,"s":"Average - 2016","v":14400},{"d":45,"s":"Average - 2016","v":13950},{"d":51,"s":"Average - 2016","v":13400},{"d":57,"s":"Average - 2016","v":13000},{"d":64,"s":"Average - 2016","v":12600},{"d":72,"s":"Average - 2016","v":12100},{"d":81,"s":"Average - 2016","v":11500},{"d":91,"s":"Average - 2016","v":10900},{"d":103,"s":"Average - 2016","v":10100},{"d":117,"s":"Average - 2016","v":9200},{"d":133,"s":"Average - 2016","v":8000},{"d":152,"s":"Average - 2016","v":6700},{"d":175,"s":"Average - 2016","v":5200},{"d":205,"s":"Average - 2016","v":3600},{"d":240,"s":"Average - 2016","v":2300},{"d":285,"s":"Average - 2016","v":1350},{"d":340,"s":"Average - 2016","v":780},{"d":410,"s":"Average - 2016","v":420},{"d":500,"s":"Average - 2016","v":200},{"d":615,"s":"Average - 2016","v":90},
{"d":16.5,"s":"Average - 2015","v":2700},{"d":18,"s":"Average - 2015","v":4200},{"d":20,"s":"Average - 2015","v":7500},{"d":22.5,"s":"Average - 2015","v":10500},{"d":25,"s":"Average - 2015","v":12500},{"d":28,"s":"Average - 2015","v":13900},{"d":31.5,"s":"Average - 2015","v":14600},{"d":35.5,"s":"Average - 2015","v":14700},{"d":40,"s":"Average - 2015","v":14500},{"d":45,"s":"Average - 2015","v":14200},{"d":51,"s":"Average - 2015","v":13900},{"d":57,"s":"Average - 2015","v":13700},{"d":64,"s":"Average - 2015","v":13400},{"d":72,"s":"Average - 2015","v":12900},{"d":81,"s":"Average - 2015","v":12200},{"d":91,"s":"Average - 2015","v":11500},{"d":103,"s":"Average - 2015","v":10700},{"d":117,"s":"Average - 2015","v":9700},{"d":133,"s":"Average - 2015","v":8400},{"d":152,"s":"Average - 2015","v":7000},{"d":175,"s":"Average - 2015","v":5400},{"d":205,"s":"Average - 2015","v":3800},{"d":240,"s":"Average - 2015","v":2400},{"d":285,"s":"Average - 2015","v":1400},{"d":340,"s":"Average - 2015","v":800},{"d":410,"s":"Average - 2015","v":450},{"d":500,"s":"Average - 2015","v":220},{"d":615,"s":"Average - 2015","v":100},
{"d":16.5,"s":"Average - 2014","v":5000},{"d":18,"s":"Average - 2014","v":6900},{"d":20,"s":"Average - 2014","v":9500},{"d":22.5,"s":"Average - 2014","v":11600},{"d":25,"s":"Average - 2014","v":13100},{"d":28,"s":"Average - 2014","v":14300},{"d":31.5,"s":"Average - 2014","v":15000},{"d":35.5,"s":"Average - 2014","v":15350},{"d":40,"s":"Average - 2014","v":15500},{"d":45,"s":"Average - 2014","v":15450},{"d":51,"s":"Average - 2014","v":15200},{"d":57,"s":"Average - 2014","v":15100},{"d":64,"s":"Average - 2014","v":14900},{"d":72,"s":"Average - 2014","v":14400},{"d":81,"s":"Average - 2014","v":13500},{"d":91,"s":"Average - 2014","v":12700},{"d":103,"s":"Average - 2014","v":11800},{"d":117,"s":"Average - 2014","v":10700},{"d":133,"s":"Average - 2014","v":9300},{"d":152,"s":"Average - 2014","v":7700},{"d":175,"s":"Average - 2014","v":5900},{"d":205,"s":"Average - 2014","v":4000},{"d":240,"s":"Average - 2014","v":2500},{"d":285,"s":"Average - 2014","v":1500},{"d":340,"s":"Average - 2014","v":900},{"d":410,"s":"Average - 2014","v":500},{"d":500,"s":"Average - 2014","v":250},{"d":615,"s":"Average - 2014","v":120},
{"d":16.5,"s":"Average - 2013","v":14400},{"d":18,"s":"Average - 2013","v":15700},{"d":20,"s":"Average - 2013","v":16700},{"d":22.5,"s":"Average - 2013","v":17300},{"d":25,"s":"Average - 2013","v":17700},{"d":28,"s":"Average - 2013","v":17900},{"d":31.5,"s":"Average - 2013","v":18000},{"d":35.5,"s":"Average - 2013","v":17800},{"d":40,"s":"Average - 2013","v":17500},{"d":45,"s":"Average - 2013","v":17100},{"d":51,"s":"Average - 2013","v":16700},{"d":57,"s":"Average - 2013","v":16400},{"d":64,"s":"Average - 2013","v":16000},{"d":72,"s":"Average - 2013","v":15300},{"d":81,"s":"Average - 2013","v":14300},{"d":91,"s":"Average - 2013","v":13500},{"d":103,"s":"Average - 2013","v":12600},{"d":117,"s":"Average - 2013","v":11300},{"d":133,"s":"Average - 2013","v":9700},{"d":152,"s":"Average - 2013","v":8000},{"d":175,"s":"Average - 2013","v":6100},{"d":205,"s":"Average - 2013","v":4200},{"d":240,"s":"Average - 2013","v":2700},{"d":285,"s":"Average - 2013","v":1650},{"d":340,"s":"Average - 2013","v":1000},{"d":410,"s":"Average - 2013","v":600},{"d":500,"s":"Average - 2013","v":300},{"d":615,"s":"Average - 2013","v":150},
{"d":16.5,"s":"Average - 2012","v":17000},{"d":18,"s":"Average - 2012","v":17700},{"d":20,"s":"Average - 2012","v":18800},{"d":22.5,"s":"Average - 2012","v":19800},{"d":25,"s":"Average - 2012","v":20400},{"d":28,"s":"Average - 2012","v":20800},{"d":31.5,"s":"Average - 2012","v":21200},{"d":35.5,"s":"Average - 2012","v":21400},{"d":40,"s":"Average - 2012","v":21450},{"d":45,"s":"Average - 2012","v":21300},{"d":51,"s":"Average - 2012","v":21200},{"d":57,"s":"Average - 2012","v":21150},{"d":64,"s":"Average - 2012","v":20900},{"d":72,"s":"Average - 2012","v":20000},{"d":81,"s":"Average - 2012","v":18700},{"d":91,"s":"Average - 2012","v":17400},{"d":103,"s":"Average - 2012","v":16000},{"d":117,"s":"Average - 2012","v":14300},{"d":133,"s":"Average - 2012","v":11800},{"d":152,"s":"Average - 2012","v":9400},{"d":175,"s":"Average - 2012","v":7000},{"d":205,"s":"Average - 2012","v":4700},{"d":240,"s":"Average - 2012","v":3000},{"d":285,"s":"Average - 2012","v":1900},{"d":340,"s":"Average - 2012","v":1150},{"d":410,"s":"Average - 2012","v":700},{"d":500,"s":"Average - 2012","v":350},{"d":615,"s":"Average - 2012","v":180},
{"d":16.5,"s":"Average - 2011","v":9500},{"d":18,"s":"Average - 2011","v":12500},{"d":20,"s":"Average - 2011","v":15500},{"d":22.5,"s":"Average - 2011","v":17700},{"d":25,"s":"Average - 2011","v":19000},{"d":28,"s":"Average - 2011","v":19700},{"d":31.5,"s":"Average - 2011","v":20100},{"d":35.5,"s":"Average - 2011","v":20100},{"d":40,"s":"Average - 2011","v":19800},{"d":45,"s":"Average - 2011","v":19400},{"d":51,"s":"Average - 2011","v":19100},{"d":57,"s":"Average - 2011","v":19000},{"d":64,"s":"Average - 2011","v":18700},{"d":72,"s":"Average - 2011","v":18000},{"d":81,"s":"Average - 2011","v":17000},{"d":91,"s":"Average - 2011","v":16000},{"d":103,"s":"Average - 2011","v":14800},{"d":117,"s":"Average - 2011","v":13000},{"d":133,"s":"Average - 2011","v":10600},{"d":152,"s":"Average - 2011","v":8400},{"d":175,"s":"Average - 2011","v":6200},{"d":205,"s":"Average - 2011","v":4100},{"d":240,"s":"Average - 2011","v":2700},{"d":285,"s":"Average - 2011","v":1600},{"d":340,"s":"Average - 2011","v":1000},{"d":410,"s":"Average - 2011","v":600},{"d":500,"s":"Average - 2011","v":300},{"d":615,"s":"Average - 2011","v":150},
{"d":16.5,"s":"Average - 2010","v":15900},{"d":18,"s":"Average - 2010","v":18700},{"d":20,"s":"Average - 2010","v":21200},{"d":22.5,"s":"Average - 2010","v":22900},{"d":25,"s":"Average - 2010","v":23600},{"d":28,"s":"Average - 2010","v":23950},{"d":31.5,"s":"Average - 2010","v":23800},{"d":35.5,"s":"Average - 2010","v":23400},{"d":40,"s":"Average - 2010","v":23000},{"d":45,"s":"Average - 2010","v":22400},{"d":51,"s":"Average - 2010","v":21800},{"d":57,"s":"Average - 2010","v":21600},{"d":64,"s":"Average - 2010","v":20900},{"d":72,"s":"Average - 2010","v":19900},{"d":81,"s":"Average - 2010","v":18600},{"d":91,"s":"Average - 2010","v":17300},{"d":103,"s":"Average - 2010","v":15900},{"d":117,"s":"Average - 2010","v":14200},{"d":133,"s":"Average - 2010","v":11600},{"d":152,"s":"Average - 2010","v":9200},{"d":175,"s":"Average - 2010","v":6800},{"d":205,"s":"Average - 2010","v":4600},{"d":240,"s":"Average - 2010","v":2950},{"d":285,"s":"Average - 2010","v":1850},{"d":340,"s":"Average - 2010","v":1150},{"d":410,"s":"Average - 2010","v":750},{"d":500,"s":"Average - 2010","v":380},{"d":615,"s":"Average - 2010","v":220}
]
},
"spacing": 211,
"bounds": "flush",
"resolve": {"scale": {"x": "independent", "y": "independent", "color": "independent", "strokeWidth": "independent"}, "legend": {"color": "independent", "strokeWidth": "independent"}},
"vconcat": [
{
  "width": 970, "height": 366,
  "data": {"name": "p1"},
  "title": {"text": "London Honor Oak Park/North Kensington Particle Size Distribution", "frame": "group", "anchor": "middle", "dx": -121, "offset": -45, "baseline": "middle", "fontSize": 26, "fontWeight": "bold", "font": "Liberation Sans", "color": "#111"},
  "mark": {"type": "line"},
  "encoding": {
    "x": {"field": "d", "type": "quantitative", "scale": {"type": "log", "domain": [10, 1000], "nice": false}, "axis": {"values": [10,20,30,40,50,60,70,80,90,100,200,300,400,500,600,700,800,900,1000], "format": "d", "labelExpr": "datum.value == 10 || datum.value == 100 || datum.value == 1000 ? datum.label : ''", "labelFlush": false, "labelOverlap": false, "labelPadding": 11, "title": "Particle Mobility Diameter / (nm)", "titleFontSize": 26, "titleX": 449, "titleY": 73, "titleBaseline": "middle"}},
    "y": {"field": "v", "type": "quantitative", "scale": {"domain": [0, 8000], "nice": false}, "axis": {"values": [0,1000,2000,3000,4000,5000,6000,7000,8000], "format": "d", "labelPadding": 16, "title": "Particle Number Concentration / (dN/dlogDp)", "titleFontSize": 21, "titleX": -140, "titleY": 180, "titleBaseline": "middle"}},
    "color": {"field": "s", "type": "nominal", "scale": {"domain": ["HOP Average - 2021","HOP Average - 2020","HOP Average 2019","NK Average - 2018","NK Average - 2017","NK Average - 2016","NK Average - 2015","NK Average - 2014","NK Average - 2013","NK Average - 2012","NK Average - 2011","NK Average - 2010"], "range": ["#D5813A","#A5403E","#3F6AA3","#77933C","#604A8B","#31859C","#4A7EBB","#C0504D","#9BBB59","#8064A2","#4BACC6","#F79646"]}, "legend": {"orient": "none", "legendX": 808, "legendY": -67, "title": null, "clipHeight": 33}},
    "strokeWidth": {"field": "s", "type": "nominal", "scale": {"domain": ["HOP Average - 2021","HOP Average - 2020","HOP Average 2019","NK Average - 2018","NK Average - 2017","NK Average - 2016","NK Average - 2015","NK Average - 2014","NK Average - 2013","NK Average - 2012","NK Average - 2011","NK Average - 2010"], "range": [5.5,2.3,2.3,2.3,2.3,2.3,2.3,2.3,2.3,2.3,2.3,2.3]}, "legend": {"orient": "none", "legendX": 808, "legendY": -67, "title": null, "clipHeight": 33}}
  }
},
{
  "width": 977, "height": 377,
  "data": {"name": "p2"},
  "title": {"text": "Chilbolton Observatory/Harwell Particle Size Distribution", "frame": "group", "anchor": "middle", "dx": -72, "offset": -45, "baseline": "middle", "fontSize": 26, "fontWeight": "bold", "font": "Liberation Sans", "color": "#111"},
  "mark": {"type": "line"},
  "encoding": {
    "x": {"field": "d", "type": "quantitative", "scale": {"type": "log", "domain": [10, 1000], "nice": false}, "axis": {"values": [10,20,30,40,50,60,70,80,90,100,200,300,400,500,600,700,800,900,1000], "format": "d", "labelExpr": "datum.value == 10 || datum.value == 100 || datum.value == 1000 ? datum.label : ''", "labelFlush": false, "labelOverlap": false, "labelPadding": 13, "title": "Particle Mobility Diameter / (nm)", "titleFontSize": 26, "titleX": 452, "titleY": 76, "titleBaseline": "middle"}},
    "y": {"field": "v", "type": "quantitative", "scale": {"domain": [0, 4000], "nice": false}, "axis": {"values": [0,500,1000,1500,2000,2500,3000,3500,4000], "format": "d", "labelPadding": 16, "title": "Particle Number Concentration / (dN/dlogDp)", "titleFontSize": 21, "titleX": -140, "titleY": 176, "titleBaseline": "middle"}},
    "color": {"field": "s", "type": "nominal", "scale": {"domain": ["C.Average - 2021","C.Average - 2020","C.Average - 2019","C.Average - 2018","C.Average - 2017","C.Average - 2016","H.Average - 2015","H.Average - 2014","H.Average - 2013","H.Average - 2012","H.Average - 2011","H.Average - 2010"], "range": ["#D5813A","#3F6AA3","#A5403E","#77933C","#604A8B","#31859C","#4A7EBB","#C0504D","#9BBB59","#8064A2","#4BACC6","#F79646"]}, "legend": {"orient": "none", "legendX": 825, "legendY": -64, "title": null, "clipHeight": 34}},
    "strokeWidth": {"field": "s", "type": "nominal", "scale": {"domain": ["C.Average - 2021","C.Average - 2020","C.Average - 2019","C.Average - 2018","C.Average - 2017","C.Average - 2016","H.Average - 2015","H.Average - 2014","H.Average - 2013","H.Average - 2012","H.Average - 2011","H.Average - 2010"], "range": [5.5,2.3,2.3,2.3,2.3,2.3,2.3,2.3,2.3,2.3,2.3,2.3]}, "legend": {"orient": "none", "legendX": 825, "legendY": -64, "title": null, "clipHeight": 34}}
  }
},
{
  "width": 983, "height": 370,
  "data": {"name": "p3"},
  "title": {"text": "London Marylebone Road Particle Size Distribution", "frame": "group", "anchor": "middle", "dx": -78, "offset": -31, "baseline": "middle", "fontSize": 26, "fontWeight": "bold", "font": "Liberation Sans", "color": "#111"},
  "mark": {"type": "line"},
  "encoding": {
    "x": {"field": "d", "type": "quantitative", "scale": {"type": "log", "domain": [10, 1000], "nice": false}, "axis": {"values": [10,20,30,40,50,60,70,80,90,100,200,300,400,500,600,700,800,900,1000], "format": "d", "labelExpr": "datum.value == 10 || datum.value == 100 || datum.value == 1000 ? datum.label : ''", "labelFlush": false, "labelOverlap": false, "labelPadding": 11, "title": "Particle Mobility Diameter (nm)", "titleFontSize": 26, "titleX": 448, "titleY": 72, "titleBaseline": "middle"}},
    "y": {"field": "v", "type": "quantitative", "scale": {"domain": [0, 30000], "nice": false}, "axis": {"values": [0,5000,10000,15000,20000,25000,30000], "format": "d", "labelPadding": 16, "title": "Particle Number Concentration / (dN/dlogDp)", "titleFontSize": 21, "titleX": -140, "titleY": 203, "titleBaseline": "middle"}},
    "color": {"field": "s", "type": "nominal", "scale": {"domain": ["Average - 2021","Average - 2020","Average - 2019","Average - 2018","Average - 2017","Average - 2016","Average - 2015","Average - 2014","Average - 2013","Average - 2012","Average - 2011","Average - 2010"], "range": ["#D5813A","#A5403E","#77933C","#604A8B","#3F6AA3","#31859C","#4A7EBB","#C0504D","#9BBB59","#8064A2","#4BACC6","#F79646"]}, "legend": {"orient": "none", "legendX": 851, "legendY": -53, "title": null, "clipHeight": 34}},
    "strokeWidth": {"field": "s", "type": "nominal", "scale": {"domain": ["Average - 2021","Average - 2020","Average - 2019","Average - 2018","Average - 2017","Average - 2016","Average - 2015","Average - 2014","Average - 2013","Average - 2012","Average - 2011","Average - 2010"], "range": [5.5,2.3,2.3,2.3,2.3,2.3,2.3,2.3,2.3,2.3,2.3,2.3]}, "legend": {"orient": "none", "legendX": 851, "legendY": -53, "title": null, "clipHeight": 34}}
  }
}
]
}
